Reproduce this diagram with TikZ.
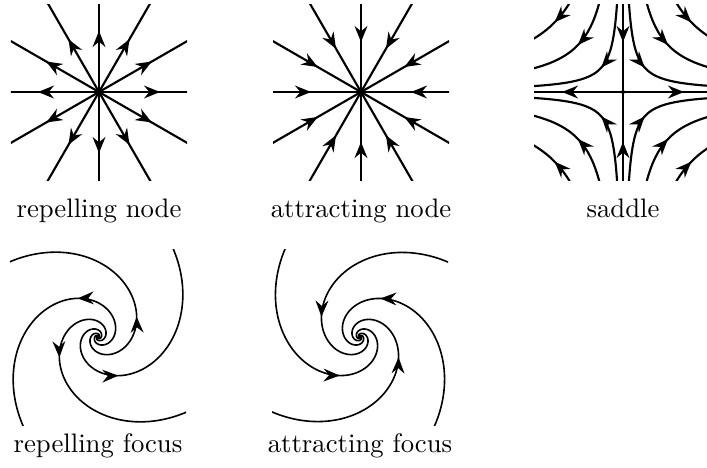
\documentclass[tikz,border=0pt]{standalone}
\usepackage{tikz}
\usetikzlibrary{arrows.meta, decorations.markings}

\tikzset{
  flow/.style={thick, postaction={decorate},
    decoration={markings, mark=at position #1 with {\arrow{Stealth[length=6pt, width=4.8pt, inset=2pt]}}}},
  flow/.default=0.55,
  spiral/.style={flow=#1, semithick},
  lbl/.style={anchor=base, inner sep=0pt}
}

\begin{document}
\begin{tikzpicture}[x=0.01316cm, y=0.01316cm]
  \useasboundingbox (0,0) rectangle (707,467);
  % repelling node
  \begin{scope}[shift={(99,375)}]
    \clip (-88,-88) rectangle (88,88);
    \foreach \a in {0,30,...,330}{
      \draw[flow] (0,0) -- (\a:111);
    }
  \end{scope}
  % attracting node
  \begin{scope}[shift={(361,375)}]
    \clip (-88,-88) rectangle (88,88);
    \foreach \a in {0,30,...,330}{
      \draw[flow] (\a:111) -- (0,0);
    }
  \end{scope}
  % saddle
  \begin{scope}[shift={(623,375)}]
    \clip (-89,-88) rectangle (84,88);
    \draw[flow] (0,0) -- (111,0);
    \draw[flow] (0,0) -- (-111,0);
    \draw[flow] (0,111) -- (0,0);
    \draw[flow] (0,-111) -- (0,0);
    \fill (0,0) circle (2);
    \foreach \k in {1,2,3}{
      \pgfmathsetmacro{\hT}{ln(112/(23*\k))}
      \pgfmathsetmacro{\hc}{23*\k}
      \foreach \sx/\sy in {1/1,-1/1,1/-1,-1/-1}{
        \draw[flow=0.49] plot[domain=0:1, samples=50]
          ({\sx*\hc*exp(\hT*(2*\x-1))}, {\sy*\hc*exp(\hT*(1-2*\x))});
      }
    }
  \end{scope}
  % repelling focus
  \begin{scope}[shift={(98,130)}]
    \clip (-88,-88) rectangle (88,88);
    \foreach \r in {0,90,180,270}{
      \draw[semithick, rotate=\r] plot[domain=-485:-141.2, samples=150]
        (\x:{34.3*exp(0.008727*\x)});
      \draw[spiral=0.28, rotate=\r] plot[domain=-141.2:153, samples=120]
        (\x:{34.3*exp(0.008727*\x)});
    }
  \end{scope}
  % attracting focus
  \begin{scope}[shift={(360,130)}]
    \clip (-88,-88) rectangle (88,88);
    \foreach \r in {0,90,180,270}{
      \draw[spiral=0.72, rotate=\r] plot[domain=-63:230.9, samples=120]
        (\x:{75*exp(-0.008727*\x)});
      \draw[semithick, rotate=\r] plot[domain=230.9:574, samples=150]
        (\x:{75*exp(-0.008727*\x)});
    }
  \end{scope}
  % labels
  \node[lbl] (repnode) at (99,250) {repelling node};
  \node[lbl] (attnode) at (361,250) {attracting node};
  \node[lbl] (saddle) at (623,250) {saddle};
  \node[lbl] (repfocus) at (98,15) {repelling focus};
  \node[lbl] (attfocus) at (360,15) {attracting focus};
\end{tikzpicture}
\end{document}
